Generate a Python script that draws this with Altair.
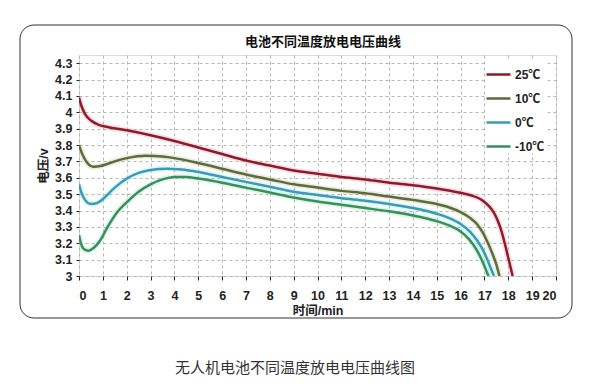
import altair as alt
import pandas as pd

FONT = "Liberation Sans, Arial, Noto Sans CJK SC, sans-serif"

series_names = ["25℃", "10℃", "0℃", "-10℃"]
series_colors = ["#8e1b2c", "#5f6a3c", "#3a9bb5", "#378f5f"]
glow_colors = ["#f19aa6", "#b9c79a", "#9fe3f2", "#9be0b6"]

t_25 = [0, 0.1, 0.25, 0.5, 0.8, 1.2, 2, 3, 4, 5, 6, 7, 8, 9, 10, 11, 12, 13, 14, 15, 16, 16.5, 16.8, 17.0, 17.2, 17.4, 17.55, 17.7, 17.85, 18.0, 18.1, 18.18]
v_25 = [4.09, 4.04, 3.99, 3.95, 3.925, 3.91, 3.89, 3.86, 3.825, 3.785, 3.745, 3.705, 3.675, 3.645, 3.625, 3.605, 3.59, 3.57, 3.555, 3.535, 3.508, 3.49, 3.472, 3.452, 3.425, 3.385, 3.34, 3.28, 3.20, 3.11, 3.05, 3.0]

t_10 = [0, 0.15, 0.35, 0.6, 0.9, 1.5, 2, 2.8, 3.5, 4, 5, 6, 7, 8, 9, 10, 11, 12, 13, 14, 15, 15.5, 16, 16.4, 16.7, 16.95, 17.15, 17.35, 17.5, 17.63]
v_10 = [3.80, 3.74, 3.69, 3.668, 3.672, 3.70, 3.72, 3.735, 3.73, 3.72, 3.69, 3.655, 3.62, 3.59, 3.56, 3.54, 3.52, 3.505, 3.485, 3.465, 3.44, 3.42, 3.39, 3.355, 3.315, 3.26, 3.20, 3.13, 3.07, 3.0]

t_0 = [0, 0.1, 0.25, 0.5, 0.75, 1.0, 1.5, 2, 2.5, 3, 3.7, 4.3, 5, 6, 7, 8, 9, 10, 11, 12, 13, 14, 15, 15.5, 16, 16.4, 16.7, 16.95, 17.15, 17.3, 17.4]
v_0 = [3.56, 3.51, 3.465, 3.44, 3.445, 3.47, 3.54, 3.595, 3.63, 3.648, 3.655, 3.65, 3.635, 3.605, 3.575, 3.545, 3.515, 3.495, 3.475, 3.46, 3.44, 3.415, 3.38, 3.355, 3.318, 3.27, 3.215, 3.155, 3.09, 3.035, 3.0]

t_m10 = [0, 0.08, 0.2, 0.4, 0.6, 0.9, 1.2, 1.6, 2, 2.5, 3, 3.5, 4, 4.5, 5, 6, 7, 8, 9, 10, 11, 12, 13, 14, 15, 15.5, 16, 16.35, 16.65, 16.85, 17.0, 17.1, 17.17]
v_m10 = [3.25, 3.20, 3.165, 3.155, 3.17, 3.22, 3.30, 3.39, 3.45, 3.515, 3.56, 3.59, 3.605, 3.605, 3.595, 3.57, 3.54, 3.51, 3.48, 3.455, 3.435, 3.415, 3.395, 3.37, 3.335, 3.31, 3.272, 3.225, 3.165, 3.11, 3.06, 3.025, 3.0]

x_ticks = list(range(0, 21))
y_ticks = [round(3 + 0.1 * i, 1) for i in range(14)]

chart_title = "电池不同温度放电电压曲线"
caption = "无人机电池不同温度放电电压曲线图"
x_title = "时间/min"
y_title = "电压/v"

rows = []
for name, ts, vs in zip(series_names, [t_25, t_10, t_0, t_m10], [v_25, v_10, v_0, v_m10]):
    for t, v in zip(ts, vs):
        rows.append({"t": t, "v": v, "series": name})
df = pd.DataFrame(rows)

x_scale = alt.Scale(domain=[0, 20], nice=False, zero=False)
y_scale = alt.Scale(domain=[3, 4.35], nice=False, zero=False)

x_enc = alt.X("t:Q", scale=x_scale,
              axis=alt.Axis(values=x_ticks, title=x_title, format="d",
                            grid=True, gridDash=[3, 3], gridColor="#b5b5b5",
                            domain=False, tickColor="#222", tickSize=4,
                            labelPadding=9, labelFontSize=12.5, labelFontWeight="bold",
                            labelColor="#222", titleFontSize=12.5, titleFontWeight="bold",
                            titleColor="#222", titlePadding=3, labelFont=FONT, titleFont=FONT))
y_enc = alt.Y("v:Q", scale=y_scale,
              axis=alt.Axis(values=y_ticks, title=y_title, format="~g",
                            grid=True, gridDash=[3, 3], gridColor="#b5b5b5",
                            domain=False, tickColor="#222", tickSize=3,
                            labelPadding=4, labelFontSize=12.5, labelFontWeight="bold",
                            labelColor="#222", titleFontSize=12.5, titleFontWeight="bold",
                            titleColor="#222", titlePadding=4, labelFont=FONT, titleFont=FONT))

glow = alt.Chart(df).mark_line(strokeWidth=6, opacity=0.3, interpolate="monotone", clip=True).encode(
    x=x_enc, y=y_enc,
    color=alt.Color("series:N", scale=alt.Scale(domain=series_names, range=glow_colors), legend=None),
    detail="series:N",
)

lines = alt.Chart(df).mark_line(strokeWidth=2.5, interpolate="monotone", clip=True).encode(
    x=x_enc, y=y_enc,
    stroke=alt.Stroke("series:N", sort=series_names,
                      scale=alt.Scale(domain=series_names, range=series_colors),
                      legend=alt.Legend(title=None, orient="none", legendX=406, legendY=6,
                                        symbolType="stroke", symbolSize=576, symbolStrokeWidth=2.5,
                                        rowPadding=4, labelOffset=3, labelFontSize=12,
                                        labelFontWeight="bold", labelColor="#222", labelFont=FONT,
                                        fillColor="white")),
    detail="series:N",
)

frame_df = pd.DataFrame({"k": [0]})
frame = alt.Chart(frame_df).mark_rect(fill="transparent", stroke="#333", strokeWidth=1,
                                      cornerRadius=14).encode(
    x=alt.value(-59), x2=alt.value(493), y=alt.value(-30), y2=alt.value(263)
)

title_df = pd.DataFrame({"label": [chart_title]})
title_mark = alt.Chart(title_df).mark_text(fontSize=13, fontWeight="bold", color="#111", font=FONT,
                                           baseline="middle", align="center").encode(
    x=alt.value(244), y=alt.value(-13), text="label:N"
)

cap_df = pd.DataFrame({"label": [caption]})
cap = alt.Chart(cap_df).mark_text(fontSize=15, color="#333", font=FONT, baseline="middle",
                                  align="center").encode(
    x=alt.value(216), y=alt.value(313), text="label:N"
)

chart = alt.layer(frame, glow, lines, title_mark, cap).properties(
    width=477, height=221,
    autosize=alt.AutoSizeParams(type="none"),
    padding={"left": 71, "top": 47, "right": 31, "bottom": 107},
).configure_view(stroke="#111", strokeWidth=1).configure(background="white").resolve_scale(color="independent")

chart.save("out.html", embed_options={"renderer": "svg", "actions": False})
